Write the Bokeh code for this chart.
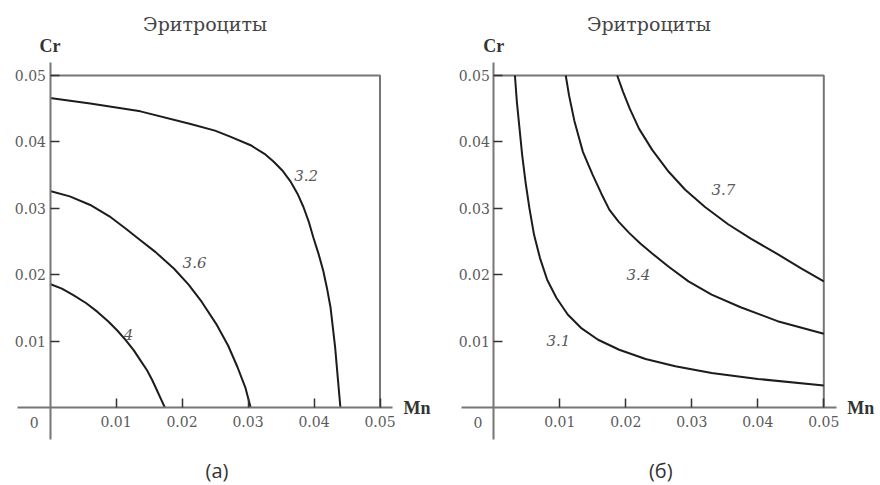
from bokeh.plotting import figure
from bokeh.layouts import row
from bokeh.models import LinearAxis, FixedTicker, Range1d, Label
from bokeh.embed import file_html
from bokeh.resources import INLINE

# ---- data: Cr vs Mn isolines (erythrocytes) ----
title_text = "Эритроциты"
x_name = "Mn"
y_name = "Cr"
tick_values = [0.01, 0.02, 0.03, 0.04, 0.05]
tick_labels = ["0.01", "0.02", "0.03", "0.04", "0.05"]

# panel (a)
a_levels = ["3.2", "3.6", "4"]
a_32_mn = [0.0, 0.0061, 0.0137, 0.0213, 0.0250, 0.0273, 0.0304, 0.0325, 0.0339, 0.0352, 0.0364,
           0.0375, 0.0384, 0.0392, 0.0399, 0.0407, 0.0414, 0.0420, 0.0425, 0.0432, 0.0436, 0.0440]
a_32_cr = [0.0466, 0.0458, 0.0446, 0.0427, 0.0417, 0.0408, 0.0395, 0.0382, 0.0370, 0.0357, 0.0341,
           0.0322, 0.0302, 0.0280, 0.0256, 0.0231, 0.0206, 0.0178, 0.0151, 0.0091, 0.0045, 0.0]
a_36_mn = [0.0, 0.0030, 0.0061, 0.0090, 0.0114, 0.0137, 0.0160, 0.0188, 0.0210, 0.0230, 0.0253,
           0.0270, 0.0284, 0.0296, 0.0304]
a_36_cr = [0.0326, 0.0318, 0.0305, 0.0288, 0.0270, 0.0252, 0.0234, 0.0209, 0.0185, 0.0159, 0.0124,
           0.0093, 0.0061, 0.0030, 0.0]
a_4_mn = [0.0, 0.0018, 0.0036, 0.0055, 0.0072, 0.0088, 0.0102, 0.0115, 0.0127, 0.0137, 0.0147,
          0.0155, 0.0162, 0.0168, 0.0174]
a_4_cr = [0.0186, 0.0179, 0.0169, 0.0157, 0.0144, 0.0130, 0.0116, 0.0101, 0.0086, 0.0071, 0.0056,
          0.0041, 0.0026, 0.0013, 0.0]
a_label_mn = [0.0388, 0.0219, 0.0119]
a_label_cr = [0.0349, 0.0219, 0.0110]

# panel (б)
b_levels = ["3.1", "3.4", "3.7"]
b_31_mn = [0.0032, 0.0035, 0.0039, 0.0043, 0.0048, 0.0054, 0.0061, 0.0070, 0.0081, 0.0095, 0.0112,
           0.0132, 0.0158, 0.0190, 0.0230, 0.0275, 0.0330, 0.0400, 0.0500]
b_31_cr = [0.0500, 0.0460, 0.0420, 0.0380, 0.0340, 0.0300, 0.0260, 0.0225, 0.0192, 0.0165, 0.0140,
           0.0120, 0.0102, 0.0087, 0.0073, 0.0062, 0.0052, 0.0043, 0.0033]
b_34_mn = [0.0109, 0.0114, 0.0122, 0.0135, 0.0150, 0.0163, 0.0175, 0.0189, 0.0205, 0.0222, 0.0240,
           0.0265, 0.0295, 0.0330, 0.0374, 0.0430, 0.0500]
b_34_cr = [0.0500, 0.0470, 0.0432, 0.0385, 0.0350, 0.0322, 0.0298, 0.0280, 0.0263, 0.0247, 0.0232,
           0.0212, 0.0190, 0.0170, 0.0151, 0.0130, 0.0111]
b_37_mn = [0.0187, 0.0196, 0.0206, 0.0220, 0.0240, 0.0265, 0.0290, 0.0320, 0.0355, 0.0390, 0.0430,
           0.0465, 0.0500]
b_37_cr = [0.0500, 0.0475, 0.0450, 0.0420, 0.0388, 0.0355, 0.0328, 0.0302, 0.0276, 0.0254, 0.0231,
           0.0210, 0.0190]
b_label_mn = [0.0098, 0.0219, 0.0348]
b_label_cr = [0.0101, 0.0201, 0.0329]

SERIF = "DejaVu Serif"
SERIF_BOLD = "Liberation Serif"
AXIS_GRAY = "#767676"
CURVE = "#1c1c1c"
TEXT_GRAY = "#5a5a5a"


def make_panel(x_origin_px, curves, label_mn, label_cr, levels, caption):
    W, H = 440, 485
    scale_x = 6600.0   # px per unit Mn
    scale_y = 6640.0   # px per unit Cr
    y_origin_px = 407.0
    p = figure(width=W, height=H, output_backend="svg", toolbar_location=None,
               x_axis_location=None, y_axis_location=None, min_border=0,
               x_range=Range1d(-x_origin_px / scale_x, (W - x_origin_px) / scale_x),
               y_range=Range1d(-(H - y_origin_px) / scale_y, y_origin_px / scale_y))
    p.grid.visible = False
    p.outline_line_color = None
    p.background_fill_color = "white"
    p.border_fill_color = "white"

    # axes crossing at the origin
    xa = LinearAxis(fixed_location=0, bounds=(-0.0049, 0.0519),
                    ticker=FixedTicker(ticks=tick_values),
                    major_label_overrides={v: s for v, s in zip(tick_values, tick_labels)})
    ya = LinearAxis(fixed_location=0, bounds=(-0.0048, 0.0520),
                    ticker=FixedTicker(ticks=tick_values),
                    major_label_overrides={v: s for v, s in zip(tick_values, tick_labels)})
    for ax in (xa, ya):
        ax.axis_line_color = AXIS_GRAY
        ax.axis_line_width = 2
        ax.major_tick_line_color = "#333333"
        ax.major_tick_line_width = 1.5
        ax.major_tick_in = 9
        ax.major_tick_out = 0
        ax.minor_tick_line_color = None
        ax.major_label_text_font = SERIF
        ax.major_label_text_font_size = "14px"
        ax.major_label_text_color = TEXT_GRAY
    xa.major_label_standoff = 8
    ya.major_label_standoff = 4
    p.add_layout(xa, "below")
    p.add_layout(ya, "left")

    # closing frame: top and right edges of the domain
    p.line([0.0, 0.05, 0.05], [0.05, 0.05, 0.0], line_color=AXIS_GRAY, line_width=2)

    for mn, cr in curves:
        p.line(mn, cr, line_color=CURVE, line_width=2)

    for s, mx, cy in zip(levels, label_mn, label_cr):
        p.add_layout(Label(x=mx, y=cy, text=s, text_font=SERIF, text_font_style="italic",
                           text_font_size="15px", text_color=TEXT_GRAY,
                           text_align="center", text_baseline="middle"))

    # origin and axis names
    p.add_layout(Label(x=-0.0024, y=-0.0023, text="0", text_font=SERIF,
                       text_font_size="14px",
                       text_color=TEXT_GRAY, text_align="center", text_baseline="middle"))
    p.add_layout(Label(x=0.0, y=0.0545, text=y_name, text_font=SERIF_BOLD,
                       text_font_style="bold",
                       text_font_size="18px", text_color="#333333",
                       text_align="center", text_baseline="middle"))
    p.add_layout(Label(x=0.0556, y=0.0, text=x_name, text_font=SERIF_BOLD,
                       text_font_style="bold",
                       text_font_size="18px", text_color="#333333",
                       text_align="center", text_baseline="middle"))

    # panel title and caption
    p.add_layout(Label(x=0.0235, y=0.0577, text=title_text, text_font=SERIF,
                       text_font_size="19px", text_color="#444444",
                       text_align="center", text_baseline="middle"))
    p.add_layout(Label(x=0.0253, y=-0.0095, text=caption, text_font="Open Sans",
                       text_font_size="20px", text_color="#333333",
                       text_align="center", text_baseline="middle"))
    return p


pa = make_panel(49.5,
                [(a_32_mn, a_32_cr), (a_36_mn, a_36_cr), (a_4_mn, a_4_cr)],
                a_label_mn, a_label_cr, a_levels, "(a)")
pb = make_panel(53.3,
                [(b_31_mn, b_31_cr), (b_34_mn, b_34_cr), (b_37_mn, b_37_cr)],
                b_label_mn, b_label_cr, b_levels, "(б)")

layout = row(pa, pb)
open("out.html", "w").write(file_html(layout, INLINE))
